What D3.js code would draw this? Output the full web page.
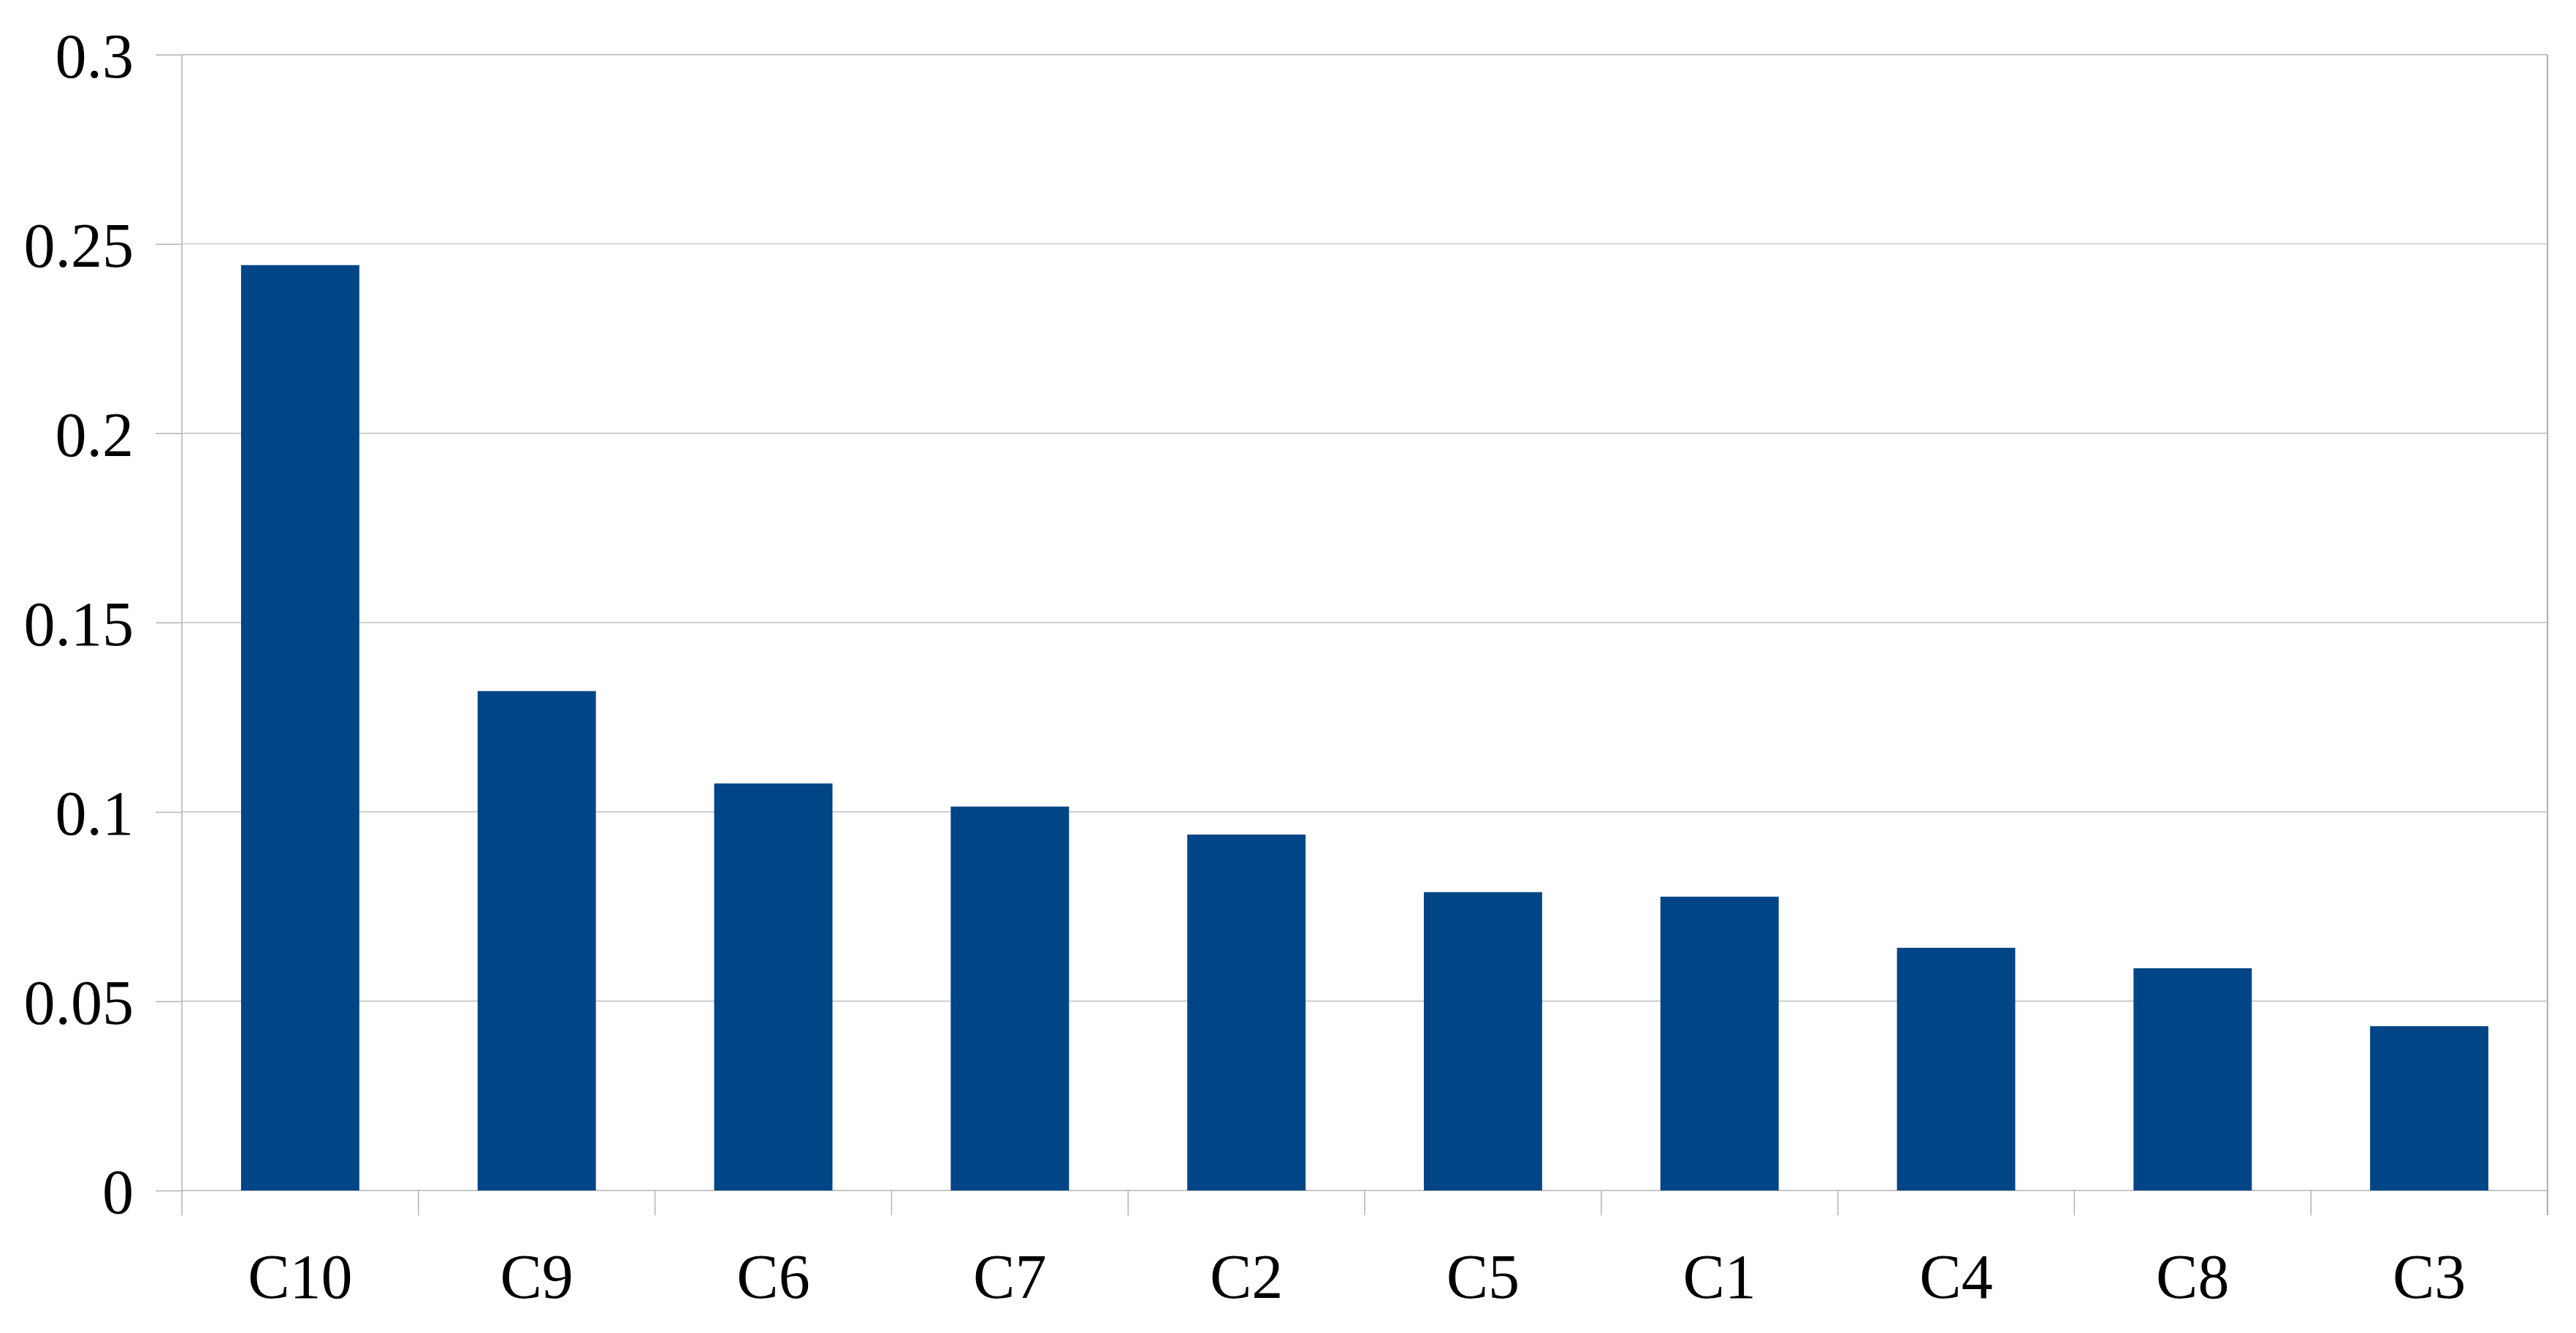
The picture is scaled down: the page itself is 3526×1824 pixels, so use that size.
<!DOCTYPE html>
<html>
<head>
<meta charset="utf-8">
<script src="https://cdn.jsdelivr.net/npm/d3@7"></script>
<style>
  html, body { margin: 0; padding: 0; background: #ffffff; }
  svg { display: block; }
</style>
</head>
<body>
<svg id="chart" width="3526" height="1824"></svg>
<script>
// ---- data ----
const categories = ["C10", "C9", "C6", "C7", "C2", "C5", "C1", "C4", "C8", "C3"];
const values = [0.2444, 0.1319, 0.1075, 0.1014, 0.0940, 0.0788, 0.0776, 0.0641, 0.0587, 0.0434];
const yTicks = [0, 0.05, 0.1, 0.15, 0.2, 0.25, 0.3];
const yTickLabels = ["0", "0.05", "0.1", "0.15", "0.2", "0.25", "0.3"];

// ---- layout ----
const plotLeft = 249, plotRight = 3487, plotTop = 74.7, plotBottom = 1629;
const gridColor = "#b3b3b3";
const barColor = "#004586";
const fontFamily = "'Liberation Serif', 'DejaVu Serif', serif";
const fontSize = 86;

const svg = d3.select("#chart");

const x = d3.scaleBand()
  .domain(categories)
  .range([plotLeft, plotRight])
  .paddingInner(0.5)
  .paddingOuter(0.25);

const y = d3.scaleLinear()
  .domain([0, 0.3])
  .range([plotBottom, plotTop]);

// y axis with left tick extension
const yAxis = d3.axisLeft(y)
  .tickValues(yTicks)
  .tickSize(36)
  .tickFormat((d, i) => yTickLabels[i]);

const yg = svg.append("g")
  .attr("transform", `translate(${plotLeft},0)`)
  .call(yAxis);
yg.select(".domain").remove();
yg.selectAll(".tick line").attr("stroke", gridColor).attr("stroke-width", 1.5);
yg.selectAll(".tick text")
  .attr("x", -66)
  .attr("dy", "0.36em")
  .attr("fill", "#000")
  .style("font-family", fontFamily)
  .style("font-size", fontSize + "px");

// gridlines across plot
svg.append("g")
  .selectAll("line")
  .data(yTicks)
  .join("line")
  .attr("x1", plotLeft)
  .attr("x2", plotRight)
  .attr("y1", d => y(d))
  .attr("y2", d => y(d))
  .attr("stroke", gridColor)
  .attr("stroke-width", d => (d === 0 || d === 0.3) ? 1.5 : 1.2);

// x tick marks at band boundaries (first/last span full height as frame)
const step = x.step();
const boundaries = d3.range(categories.length + 1).map(i => plotLeft + i * step);
svg.append("g")
  .selectAll("line")
  .data(boundaries)
  .join("line")
  .attr("x1", d => d).attr("x2", d => d)
  .attr("y1", (d, i) => (i === 0 || i === boundaries.length - 1) ? plotTop : plotBottom)
  .attr("y2", plotBottom + 34)
  .attr("stroke", gridColor)
  .attr("stroke-width", (d, i) => i === boundaries.length - 1 ? 2.2 : 1.5);

// bars
svg.append("g")
  .selectAll("rect")
  .data(categories)
  .join("rect")
  .attr("x", d => x(d))
  .attr("width", x.bandwidth())
  .attr("y", (d, i) => y(values[i]))
  .attr("height", (d, i) => y(0) - y(values[i]))
  .attr("fill", barColor);

// x labels
svg.append("g")
  .selectAll("text")
  .data(categories)
  .join("text")
  .attr("x", d => x(d) + x.bandwidth() / 2)
  .attr("y", 1776)
  .attr("text-anchor", "middle")
  .attr("fill", "#000")
  .style("font-family", fontFamily)
  .style("font-size", fontSize + "px")
  .text(d => d);
</script>
</body>
</html>
